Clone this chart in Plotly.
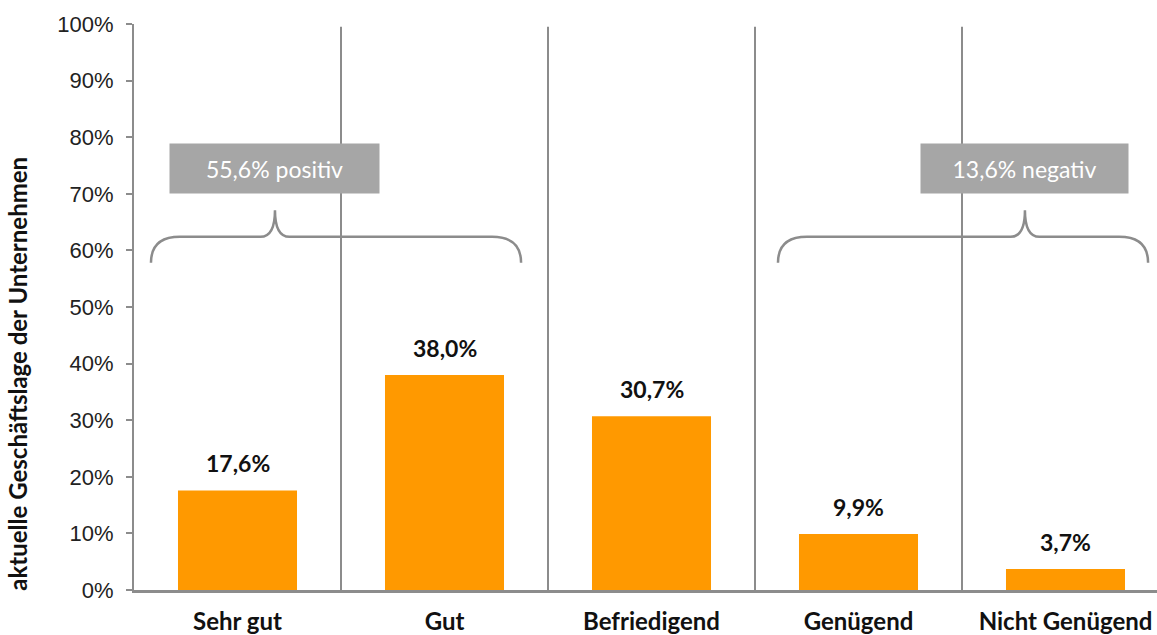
import plotly.graph_objects as go

categories = ["Sehr gut", "Gut", "Befriedigend", "Genügend", "Nicht Genügend"]
values = [17.6, 38.0, 30.7, 9.9, 3.7]
y_ticks = [0, 10, 20, 30, 40, 50, 60, 70, 80, 90, 100]
y_tick_labels = [f"{v}%" for v in y_ticks]
group_labels = ["55,6% positiv", "13,6% negativ"]

def fmt(v):
    return f"{v:.1f}%".replace(".", ",")

x_idx = list(range(len(categories)))
fig = go.Figure()
fig.add_trace(go.Bar(
    x=x_idx, y=values, width=0.575,
    marker=dict(color="#ff9900", line=dict(width=0)),
    hoverinfo="skip",
))

# value labels
for i, v in zip(x_idx, values):
    fig.add_annotation(x=i, y=v, text=f"<b>{fmt(v)}</b>", showarrow=False,
                       yanchor="bottom", yshift=11,
                       font=dict(family="Lato, Liberation Sans", size=23, color="#111"))

# separators between categories
for k in range(len(categories) - 1):
    fig.add_shape(type="line", x0=k + 0.5, x1=k + 0.5, y0=0, y1=99.5,
                  xref="x", yref="y", line=dict(color="#8c8c8c", width=2), layer="below")

def brace(x0, x1, xm, y_end, y_mid, y_tip):
    dx = 0.14
    tdx = 0.07
    p = (f"M {x0},{y_end} Q {x0},{y_mid} {x0+dx},{y_mid} "
         f"L {xm-tdx},{y_mid} Q {xm},{y_mid} {xm},{y_tip} "
         f"Q {xm},{y_mid} {xm+tdx},{y_mid} "
         f"L {x1-dx},{y_mid} Q {x1},{y_mid} {x1},{y_end}")
    return p

braces = [(-0.418, 1.37, 0.181), (2.611, 4.399, 3.804)]
for (x0, x1, xm), lab in zip(braces, group_labels):
    fig.add_shape(type="path", path=brace(x0, x1, xm, 57.8, 62.4, 67.1),
                  xref="x", yref="y", line=dict(color="#8c8c8c", width=2.5))
    fig.add_annotation(x=xm, y=74.45, text=lab, showarrow=False,
                       xref="x", yref="y",
                       width=209 if lab.startswith("55") else 207, height=49,
                       bgcolor="#a6a6a6", borderpad=0,
                       font=dict(family="Lato, Open Sans", size=23, color="white"))

fig.add_annotation(xref="paper", yref="y", x=-0.1135, y=38.2, xanchor="center", yanchor="middle",
                   text="<b>aktuelle Geschäftslage der Unternehmen</b>", textangle=-90,
                   showarrow=False, font=dict(family="Lato, Open Sans", size=24, color="#111"))

fig.update_layout(
    width=1157, height=635,
    margin=dict(l=134, r=0, t=24, b=45),
    paper_bgcolor="white", plot_bgcolor="white",
    showlegend=False,
    bargap=0.4,
    xaxis=dict(range=[-0.5, -0.5 + 1023 / 207], tickmode="array", tickvals=x_idx,
               ticktext=[f"<b>{c}</b>" for c in categories], automargin=False,
               showline=True, linecolor="#8c8c8c", linewidth=2.5, ticks="",
               ticklabelstandoff=8, showgrid=False, zeroline=False,
               tickfont=dict(family="Lato, Open Sans", size=24, color="#111")),
    yaxis=dict(range=[0, 100], tickmode="array", tickvals=y_ticks, ticktext=y_tick_labels,
               showline=True, linecolor="#8c8c8c", linewidth=2, ticks="outside",
               ticklen=6, tickcolor="#8c8c8c", tickwidth=2, showgrid=False, zeroline=False,
               ticklabelstandoff=8, automargin=False,
               tickfont=dict(family="Liberation Sans, Arial", size=22, color="#222")),
)

fig.write_html("out.html")
